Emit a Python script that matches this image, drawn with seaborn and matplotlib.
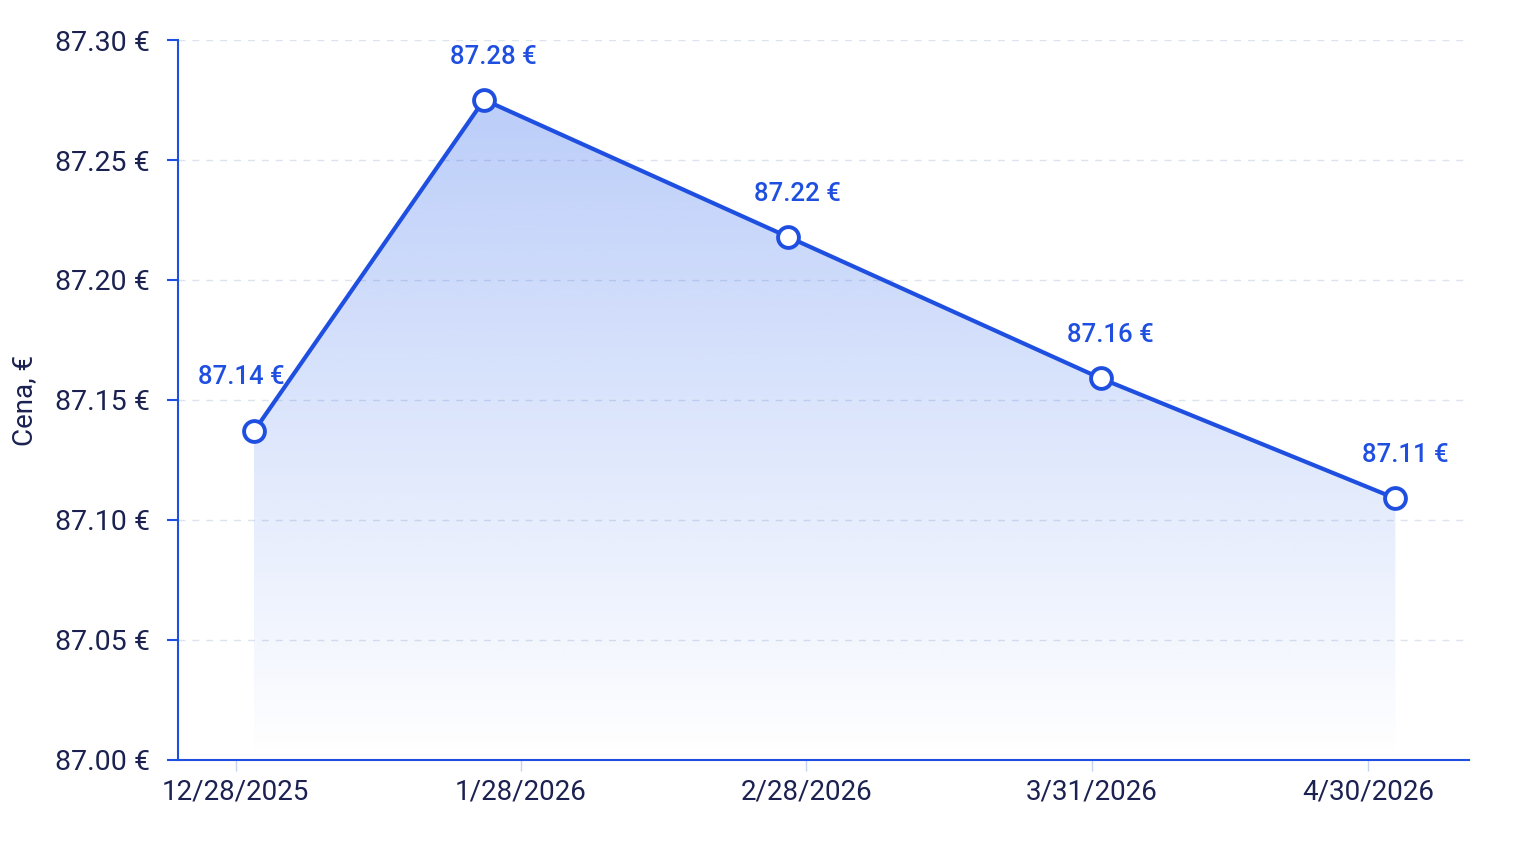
import numpy as np
import pandas as pd
import matplotlib
matplotlib.use("Agg")
import matplotlib.pyplot as plt
from matplotlib.colors import to_rgb
from matplotlib.ticker import FuncFormatter, MultipleLocator
import seaborn as sns

# --- Data ---
dates = pd.to_datetime(["2025-12-30", "2026-01-24", "2026-02-26", "2026-04-01", "2026-05-03"])
prices = [87.137, 87.2751, 87.218, 87.159, 87.109]
tick_dates = pd.to_datetime(["2025-12-28", "2026-01-28", "2026-02-28", "2026-03-31", "2026-04-30"])
tick_labels = [f"{d.month}/{d.day}/{d.year}" for d in tick_dates]
y_label = "Cena, €"

BLUE = "#1f4fe0"
FILL = "#2a63ec"
NAVY = "#1b2150"
Y_MIN, Y_MAX = 87.0, 87.3

sns.set_theme(style="white")
plt.rcParams["font.family"] = ["Roboto", "DejaVu Sans"]

fig = plt.figure(figsize=(15.36, 8.46), dpi=100)
ax = fig.add_axes([0.1159, 0.1017, 0.8405, 0.851])

df = pd.DataFrame({"date": dates, "price": prices})
sns.lineplot(data=df, x="date", y="price", ax=ax, color=BLUE, linewidth=3,
             marker="o", markersize=15, markerfacecolor="white",
             markeredgecolor=BLUE, markeredgewidth=2.8, zorder=4)

# --- Gradient area under the line ---
poly = ax.fill_between(df["date"], df["price"], Y_MIN, color="none", lw=0)
x0 = matplotlib.dates.date2num(dates[0])
x1 = matplotlib.dates.date2num(dates[-1])
grad = np.zeros((256, 1, 4))
grad[..., :3] = to_rgb(FILL)
grad[:, 0, 3] = np.linspace(0.32, 0.0, 256)
img = ax.imshow(grad, aspect="auto", origin="upper", zorder=1,
                extent=[x0, x1, Y_MIN, max(prices)])
img.set_clip_path(poly.get_paths()[0], transform=ax.transData)

# --- Value labels ---
for i, (d, p) in enumerate(zip(dates, prices)):
    dx, dy = (-9, 39) if i == 0 else (7, 31)
    ax.annotate(f"{p:.2f} €", (d, p), xytext=(dx, dy), textcoords="offset points",
                ha="center", va="center", fontsize=18.5, color=BLUE, fontweight="medium")

# --- Axes styling ---
ax.set_xlim(pd.Timestamp("2025-12-21 18:00"), pd.Timestamp("2026-05-11"))
ax.set_ylim(Y_MIN, Y_MAX)
ax.set_xticks(tick_dates)
ax.set_xticklabels(tick_labels)
ax.yaxis.set_major_locator(MultipleLocator(0.05))
ax.yaxis.set_major_formatter(FuncFormatter(lambda v, _: f"{v:.2f} €"))

ax.yaxis.grid(True, linestyle=(0, (5, 5)), color="#dce3ef", linewidth=1)
ax.set_axisbelow(True)

for side in ["top", "right"]:
    ax.spines[side].set_visible(False)
for side in ["left", "bottom"]:
    ax.spines[side].set_color(BLUE)
    ax.spines[side].set_linewidth(1.5)

ax.tick_params(axis="y", length=8, width=1.5, color=BLUE, labelcolor=NAVY,
               labelsize=20.5, pad=12, left=True)
ax.tick_params(axis="x", length=8, width=1, color="#c5d3f0", labelcolor=NAVY,
               labelsize=20, pad=5, bottom=True)

ax.set_xlabel("")
ax.set_ylabel(y_label, fontsize=20, color=NAVY, labelpad=12)

fig.savefig("out.png", dpi=100, facecolor="white")
